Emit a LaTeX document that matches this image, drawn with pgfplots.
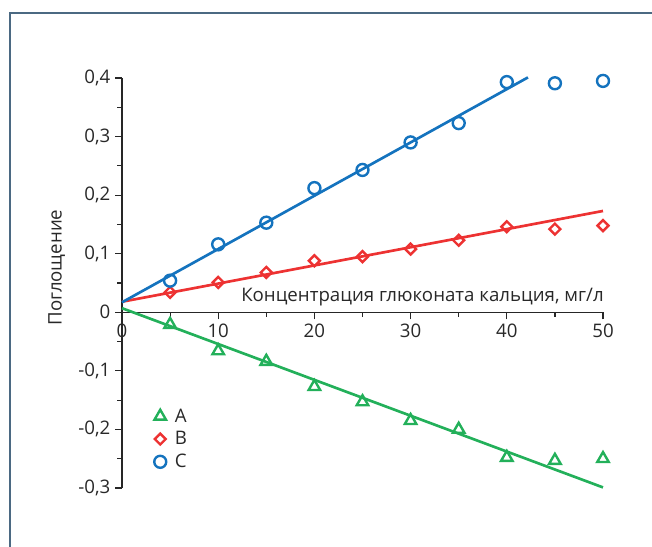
\documentclass[border=0pt]{standalone}
\usepackage{pgfplots}
\pgfplotsset{compat=1.18}
\usepackage{fontspec}
\setmainfont{Open Sans}
\definecolor{cA}{RGB}{35,176,90}
\definecolor{cB}{RGB}{237,50,50}
\definecolor{cC}{RGB}{20,115,190}
\definecolor{framecol}{RGB}{75,105,130}
\definecolor{txt}{RGB}{40,40,40}
\newcommand\lbl{\fontsize{14pt}{16pt}\selectfont}
\begin{document}
\begin{tikzpicture}
\useasboundingbox (-91.5pt,-43.5pt) rectangle (397.5pt,366pt);
\draw[framecol, line width=1.5pt] (-84pt,-80pt) -- (-84pt,356.25pt) -- (420pt,356.25pt);
\begin{axis}[
  at={(0pt,0pt)}, anchor=south west,
  scale only axis, width=360.75pt, height=307.5pt,
  xmin=0, xmax=50, ymin=-0.3, ymax=0.4,
  axis lines=middle, clip=false,
  axis line style={-, line width=0.9pt, black!85},
  every tick/.style={black!85, line width=0.9pt},
  tick align=outside, major tick length=5.25pt, minor tick length=3.4pt,
  hide obscured x ticks=false, hide obscured y ticks=false,
  xtick={0,10,20,30,40,50}, xticklabels={0,10,20,30,40,50},
  minor xtick={5,15,25,35,45},
  ytick={-0.3,-0.2,-0.1,0,0.1,0.2,0.3,0.4},
  yticklabels={{-0,3},{-0,2},{-0,1},0,{0,1},{0,2},{0,3},{0,4}},
  minor ytick={-0.25,-0.15,-0.05,0.05,0.15,0.25,0.35},
  tick label style={font=\lbl, text=txt},
  legend style={draw=none, fill=none, at={(axis cs:2.7,-0.155)}, anchor=north west,
    font=\lbl, text=txt, row sep=1.5pt},
  legend cell align=left,
  legend image code/.code={\path[draw=none, fill=none] (0pt,0pt) rectangle (15pt,0pt); \draw[mark repeat=2, mark phase=2, #1] plot coordinates {(0pt,0pt)(6pt,0pt)(12pt,0pt)};},
]
\addplot[only marks, cA, mark=triangle, mark size=5pt, mark options={solid, line width=1.8pt}] coordinates {
 (5,-0.021)(10,-0.066)(15,-0.084)(20,-0.127)(25,-0.153)(30,-0.185)(35,-0.200)(40,-0.248)(45,-0.253)(50,-0.250)};
\addlegendentry{A}
\addplot[only marks, cB, mark=square, mark size=2.9pt, mark options={solid, rotate=45, line width=1.8pt}] coordinates {
 (5,0.034)(10,0.051)(15,0.068)(20,0.088)(25,0.095)(30,0.108)(35,0.123)(40,0.146)(45,0.142)(50,0.148)};
\addlegendentry{B}
\addplot[only marks, cC, mark=o, mark size=4.5pt, mark options={solid, line width=1.8pt}] coordinates {
 (5,0.054)(10,0.116)(15,0.153)(20,0.212)(25,0.243)(30,0.290)(35,0.323)(40,0.393)(45,0.391)(50,0.395)};
\addlegendentry{C}
\addplot[cA, line width=2pt, forget plot] coordinates {(0,0.007)(50,-0.299)};
\addplot[cB, line width=2pt, forget plot] coordinates {(0,0.018)(50,0.173)};
\addplot[cC, line width=2pt, forget plot] coordinates {(0,0.017)(42.2,0.401)};
\node[font=\lbl, text=txt, anchor=base east, inner sep=0pt] at (axis cs:50.1,0.0176) {Концентрация глюконата кальция, мг/л};
\node[font=\lbl, text=txt, rotate=90, anchor=center, inner sep=0pt] at (axis cs:-6.8,0.0765) {Поглощение};
\end{axis}
\end{tikzpicture}
\end{document}
